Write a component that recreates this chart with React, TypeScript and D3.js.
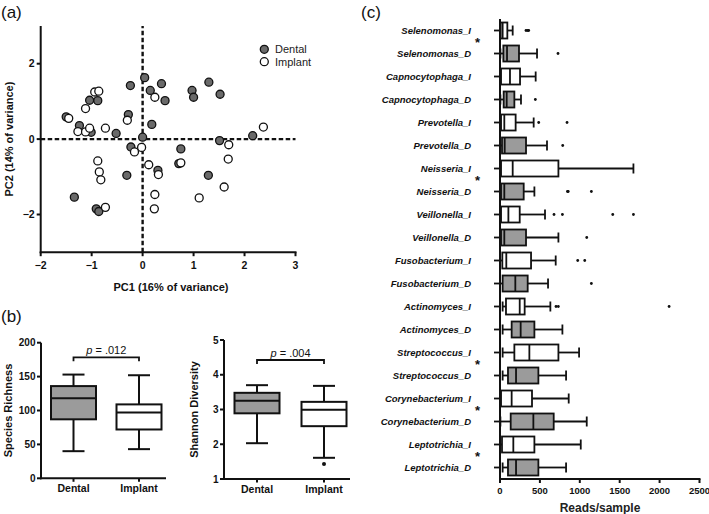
import React from "react";
import * as d3 from "d3";

const FONT = "'Liberation Sans', Arial, Helvetica, sans-serif";

// ---------- Panel (a): PCA ----------
const dentalPCA: [number, number][] = [
  [0.04, 1.63], [-0.24, 1.42], [0.37, 1.47], [0.15, 1.29], [0.44, 1.02], [0.97, 1.29],
  [1.0, 1.11], [1.3, 1.51], [1.52, 1.19], [-1.04, 1.03], [-0.88, 1.02], [-1.5, 0.59],
  [-1.24, 0.36], [-1.01, 0.18], [-0.28, 0.65], [0.18, 0.39], [-0.52, 0.15], [0.0, 0.05],
  [-0.23, -0.21], [1.51, -0.04], [2.16, 0.09], [0.75, -0.26], [0.71, -0.65], [0.3, -0.83],
  [-0.31, -0.96], [1.29, -0.96], [-1.34, -1.54], [-0.91, -1.85], [-0.86, -1.92],
];
const implantPCA: [number, number][] = [
  [-1.45, 0.55], [-1.12, 0.81], [-0.94, 1.25], [-0.86, 1.27], [-1.27, 0.2], [-1.12, 0.19],
  [-1.04, 0.29], [-0.73, 0.29], [-0.3, 0.5], [0.24, 1.11], [-0.02, -0.22], [-0.16, -0.34],
  [0.12, -0.68], [0.31, -0.94], [0.75, -0.63], [1.69, -0.15], [1.68, -0.53], [2.37, 0.32],
  [1.6, -1.27], [1.11, -1.56], [0.24, -1.47], [0.23, -1.85], [-0.88, -0.58], [-0.85, -0.87],
  [-0.82, -1.08], [-0.73, -1.81],
];
const pcaXTicks = [-2, -1, 0, 1, 2, 3];
const pcaYTicks = [-2, 0, 2];
const legendLabels = ["Dental", "Implant"];

// ---------- Panel (b): diversity ----------
const groups = ["Dental", "Implant"];
// [min, q1, median, q3, max]
const richnessBoxes = [
  [40, 87, 118, 136, 153],
  [43, 72, 97, 109, 152],
];
const richnessOutliers: number[][] = [[], []];
const richnessTicks = [0, 50, 100, 150, 200];
const shannonBoxes = [
  [2.03, 2.89, 3.25, 3.48, 3.7],
  [1.61, 2.52, 2.99, 3.22, 3.68],
];
const shannonOutliers: number[][] = [[], [1.43]];
const shannonTicks = [1, 2, 3, 4, 5];
const pTexts = [".012", ".004"];

// ---------- Panel (c): genera ----------
const genera = [
  "Selenomonas_I", "Selenomonas_D", "Capnocytophaga_I", "Capnocytophaga_D",
  "Prevotella_I", "Prevotella_D", "Neisseria_I", "Neisseria_D",
  "Veillonella_I", "Veillonella_D", "Fusobacterium_I", "Fusobacterium_D",
  "Actinomyces_I", "Actinomyces_D", "Streptococcus_I", "Streptococcus_D",
  "Corynebacterium_I", "Corynebacterium_D", "Leptotrichia_I", "Leptotrichia_D",
];
const genusBoxes = [
  [0, 8, 33, 92, 159],
  [5, 42, 88, 238, 464],
  [0, 13, 125, 251, 447],
  [5, 46, 84, 180, 263],
  [0, 13, 54, 196, 422],
  [0, 25, 59, 326, 589],
  [0, 13, 159, 732, 1672],
  [0, 13, 54, 297, 431],
  [0, 13, 105, 247, 564],
  [0, 13, 54, 326, 732],
  [0, 29, 79, 389, 698],
  [0, 33, 192, 347, 602],
  [33, 75, 247, 309, 631],
  [33, 146, 259, 431, 782],
  [33, 180, 368, 732, 991],
  [33, 100, 201, 481, 828],
  [0, 13, 146, 401, 861],
  [5, 134, 418, 673, 1087],
  [0, 25, 167, 431, 1012],
  [33, 100, 201, 481, 828],
];
const genusOutliers: number[][] = [
  [326, 347, 360], [727], [], [443], [485, 840], [786], [], [845, 855, 1145],
  [677, 782, 1413, 1672], [1087], [974, 1062], [1145], [702, 731, 2119], [], [], [],
  [], [], [], [],
];
const significantGenera = ["Selenomonas_D", "Neisseria_D", "Streptococcus_D", "Corynebacterium_D", "Leptotrichia_D"];
const readsTicks = [0, 500, 1000, 1500, 2000, 2500];

const GRAY_BOX = "#9b9b9b";
const GRAY_PT = "#6a6a6a";
const INK = "#111";

function PanelA() {
  const x = d3.scaleLinear().domain([-2, 3]).range([40.7, 295.5]);
  const y = d3.scaleLinear().domain([-3, 3]).range([252.2, 26]);
  const legY = d3.scalePoint().domain(legendLabels).range([49.3, 61.7]);
  return (
    <g fontFamily={FONT}>
      {/* dashed zero lines */}
      <line x1={x(0)} x2={x(0)} y1={y(-3)} y2={y(3)} stroke={INK} strokeWidth={2.4} strokeDasharray="4.5,2.5" />
      <line x1={x(-2)} x2={x(3)} y1={y(0)} y2={y(0)} stroke={INK} strokeWidth={2.4} strokeDasharray="4.5,2.5" />
      {/* axes */}
      <line x1={x(-2)} x2={x(-2)} y1={y(-3) + 1} y2={y(3)} stroke={INK} strokeWidth={2} />
      <line x1={x(-2) - 1} x2={x(3) + 1} y1={y(-3)} y2={y(-3)} stroke={INK} strokeWidth={2} />
      {pcaYTicks.map((t) => (
        <g key={"ay" + t}>
          <line x1={x(-2) - 4} x2={x(-2)} y1={y(t)} y2={y(t)} stroke={INK} strokeWidth={2} />
          <text x={x(-2) - 6} y={y(t)} dy="0.35em" textAnchor="end" fontSize={10.5} fontWeight="bold" fill={INK}>
            {t < 0 ? "\u2212" + Math.abs(t) : t}
          </text>
        </g>
      ))}
      {pcaXTicks.map((t) => (
        <g key={"ax" + t}>
          <line x1={x(t)} x2={x(t)} y1={y(-3)} y2={y(-3) + 4} stroke={INK} strokeWidth={2} />
          <text x={x(t)} y={y(-3) + 16.5} textAnchor="middle" fontSize={10.5} fontWeight="bold" fill={INK}>
            {t < 0 ? "\u2212" + Math.abs(t) : t}
          </text>
        </g>
      ))}
      <text x={171} y={291} textAnchor="middle" fontSize={11} fontWeight="bold" fill={INK}>
        PC1 (16% of variance)
      </text>
      <text transform={`translate(13,${y(0)}) rotate(-90)`} textAnchor="middle" fontSize={11} fontWeight="bold" fill={INK}>
        PC2 (14% of variance)
      </text>
      {dentalPCA.map((d, i) => (
        <circle key={"d" + i} cx={x(d[0])} cy={y(d[1])} r={4} fill={GRAY_PT} stroke={INK} strokeWidth={1.3} />
      ))}
      {implantPCA.map((d, i) => (
        <circle key={"i" + i} cx={x(d[0])} cy={y(d[1])} r={4} fill="#fff" stroke={INK} strokeWidth={1.3} />
      ))}
      {legendLabels.map((l, i) => (
        <g key={l}>
          <circle cx={264.3} cy={legY(l)!} r={4} fill={i === 0 ? GRAY_PT : "#fff"} stroke={INK} strokeWidth={1.3} />
          <text x={275} y={legY(l)!} dy="0.35em" fontSize={11} fill="#222">
            {l}
          </text>
        </g>
      ))}
      <text x={1} y={18} fontSize={17} fill={INK}>(a)</text>
    </g>
  );
}

function VBoxPanel(props: {
  axisX: number; axisEnd: number; centers: [number, number]; domain: [number, number];
  yRange: [number, number]; ticks: number[]; boxes: number[][]; outliers: number[][];
  title: string; p: string; bracketY: number; titleX: number;
}) {
  const { axisX, axisEnd, centers, domain, yRange, ticks, boxes, outliers, title, p, bracketY, titleX } = props;
  const y = d3.scaleLinear().domain(domain).range(yRange);
  const x = d3.scalePoint().domain(groups).range(centers);
  const bw = 45;
  const cw = 22;
  const base = yRange[0];
  const x0 = x(groups[0])!;
  const x1 = x(groups[1])!;
  return (
    <g fontFamily={FONT}>
      <line x1={axisX} x2={axisX} y1={base + 1} y2={yRange[1]} stroke={INK} strokeWidth={2} />
      <line x1={axisX - 1} x2={axisEnd} y1={base} y2={base} stroke={INK} strokeWidth={2} />
      {ticks.map((t) => (
        <g key={t}>
          <line x1={axisX - 4} x2={axisX} y1={y(t)} y2={y(t)} stroke={INK} strokeWidth={2} />
          <text x={axisX - 5.5} y={y(t)} dy="0.35em" textAnchor="end" fontSize={10} fontWeight="bold" fill={INK}>{t}</text>
        </g>
      ))}
      {groups.map((g, i) => {
        const cx = x(g)!;
        const [mn, q1, md, q3, mx] = boxes[i];
        return (
          <g key={g}>
            <line x1={cx} x2={cx} y1={base} y2={base + 3.5} stroke={INK} strokeWidth={2} />
            <text x={cx} y={base + 13.5} textAnchor="middle" fontSize={10.5} fontWeight="bold" fill={INK}>{g}</text>
            <line x1={cx} x2={cx} y1={y(mx)} y2={y(q3)} stroke={INK} strokeWidth={2} />
            <line x1={cx} x2={cx} y1={y(q1)} y2={y(mn)} stroke={INK} strokeWidth={2} />
            <line x1={cx - cw / 2} x2={cx + cw / 2} y1={y(mx)} y2={y(mx)} stroke={INK} strokeWidth={2} />
            <line x1={cx - cw / 2} x2={cx + cw / 2} y1={y(mn)} y2={y(mn)} stroke={INK} strokeWidth={2} />
            <rect x={cx - bw / 2} y={y(q3)} width={bw} height={y(q1) - y(q3)} fill={i === 0 ? GRAY_BOX : "#fff"} stroke={INK} strokeWidth={2} />
            <line x1={cx - bw / 2} x2={cx + bw / 2} y1={y(md)} y2={y(md)} stroke={INK} strokeWidth={2} />
            {outliers[i].map((o, k) => (
              <circle key={k} cx={cx} cy={y(o)} r={2} fill={INK} />
            ))}
          </g>
        );
      })}
      <path d={`M${x0},${bracketY + 4}V${bracketY}H${x1}V${bracketY + 4}`} fill="none" stroke={INK} strokeWidth={1.8} />
      <text x={(x0 + x1) / 2} y={bracketY - 3} textAnchor="middle" fontSize={11} fill={INK}>
        <tspan fontStyle="italic">p</tspan> = {p}
      </text>
      <text transform={`translate(${titleX},${(base + yRange[1]) / 2}) rotate(-90)`} textAnchor="middle" fontSize={11} fontWeight="bold" fill={INK}>
        {title}
      </text>
    </g>
  );
}

function PanelC() {
  const x = d3.scaleLinear().domain([0, 2500]).range([500, 699.5]);
  const y = d3.scaleBand().domain(genera).range([19, 479]);
  const bh = 16;
  const ch = 10;
  const base = 479;
  return (
    <g fontFamily={FONT}>
      {genera.map((g, i) => {
        const cy = y(g)! + y.bandwidth() / 2;
        const [mn, q1, md, q3, mx] = genusBoxes[i];
        const isD = g.endsWith("_D");
        return (
          <g key={g}>
            <line x1={x(0) - 6} x2={x(0)} y1={cy} y2={cy} stroke={INK} strokeWidth={1.8} />
            <text x={471} y={cy} dy="0.35em" textAnchor="end" fontSize={9.5} fontWeight="bold" fontStyle="italic" fill={INK}>{g}</text>
            <line x1={x(mn)} x2={x(q1)} y1={cy} y2={cy} stroke={INK} strokeWidth={1.8} />
            <line x1={x(q3)} x2={x(mx)} y1={cy} y2={cy} stroke={INK} strokeWidth={1.8} />
            <line x1={x(mn)} x2={x(mn)} y1={cy - ch / 2} y2={cy + ch / 2} stroke={INK} strokeWidth={1.8} />
            <line x1={x(mx)} x2={x(mx)} y1={cy - ch / 2} y2={cy + ch / 2} stroke={INK} strokeWidth={1.8} />
            <rect x={x(q1)} y={cy - bh / 2} width={x(q3) - x(q1)} height={bh} fill={isD ? GRAY_BOX : "#fff"} stroke={INK} strokeWidth={1.8} />
            <line x1={x(md)} x2={x(md)} y1={cy - bh / 2} y2={cy + bh / 2} stroke={INK} strokeWidth={1.8} />
            {genusOutliers[i].map((o, k) => (
              <circle key={k} cx={x(o)} cy={cy} r={1.4} fill={INK} />
            ))}
            {significantGenera.includes(g) && (
              <text x={477.5} y={y(g)! + 5} textAnchor="middle" fontSize={13} fontWeight="bold" fill={INK}>*</text>
            )}
          </g>
        );
      })}
      <line x1={x(0)} x2={x(0)} y1={base + 1} y2={19} stroke={INK} strokeWidth={2} />
      <line x1={x(0) - 1} x2={x(2500) + 1} y1={base} y2={base} stroke={INK} strokeWidth={2} />
      {readsTicks.map((t) => (
        <g key={t}>
          <line x1={x(t)} x2={x(t)} y1={base} y2={base + 4} stroke={INK} strokeWidth={2} />
          <text x={x(t)} y={base + 15} textAnchor="middle" fontSize={9.5} fontWeight="bold" fill={INK}>{t}</text>
        </g>
      ))}
      <text x={600} y={512} textAnchor="middle" fontSize={12} fontWeight="bold" fill="#222">Reads/sample</text>
      <text x={361} y={18} fontSize={17} fill={INK}>(c)</text>
    </g>
  );
}

export default function App() {
  return (
    <svg width={709} height={514} viewBox="0 0 709 514" style={{ position: "absolute", left: 0, top: 0, background: "#fff" }}>
      <rect width={709} height={514} fill="#fff" />
      <PanelA />
      <text x={1} y={322} fontSize={17} fill={INK} fontFamily={FONT}>(b)</text>
      <VBoxPanel
        axisX={41} axisEnd={166} centers={[73.5, 139]} domain={[0, 200]} yRange={[478.3, 342.7]}
        ticks={richnessTicks} boxes={richnessBoxes} outliers={richnessOutliers}
        title="Species Richness" p={pTexts[0]} bracketY={357.3} titleX={12}
      />
      <VBoxPanel
        axisX={224} axisEnd={350} centers={[257, 324]} domain={[1, 5]} yRange={[479, 340]}
        ticks={shannonTicks} boxes={shannonBoxes} outliers={shannonOutliers}
        title="Shannon Diversity" p={pTexts[1]} bracketY={360} titleX={198}
      />
      <PanelC />
    </svg>
  );
}
